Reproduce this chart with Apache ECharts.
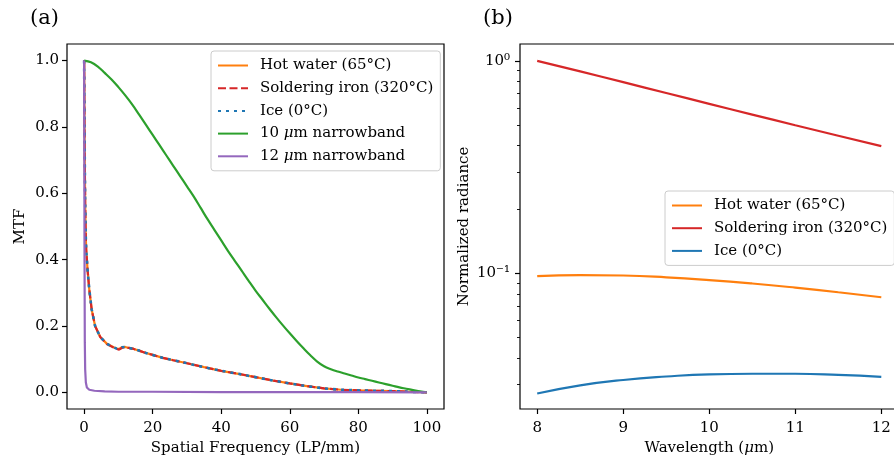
<!DOCTYPE html>
<html><head><meta charset="utf-8">
<script src="https://cdn.jsdelivr.net/npm/echarts@6/dist/echarts.min.js"></script>
<style>html,body{margin:0;padding:0;background:#fff}#c{width:894px;height:457px}</style>
</head><body><div id="c"></div><script>
// ---- Panel (a): MTF curves ----
const mtfFreq = [0,0.1,0.2,0.3,0.45,0.6,1,1.5,2.2,3.2,4.7,6.6,8.6,9.5,10.2,11,12,13,14.5,16,18,20,23,26,30,35,40,45,50,55,60,65,70,75,80,85,90,95,100];
const hotWaterMtf = [1.0,0.82,0.68,0.57,0.48,0.43,0.37,0.31,0.25,0.20,0.167,0.147,0.136,0.132,0.131,0.136,0.137,0.134,0.131,0.126,0.119,0.113,0.104,0.097,0.088,0.076,0.065,0.056,0.046,0.036,0.027,0.019,0.012,0.008,0.006,0.005,0.004,0.002,0.0];
const solderingMtf = [1.0,0.82,0.68,0.57,0.48,0.43,0.37,0.31,0.25,0.20,0.167,0.146,0.135,0.131,0.129,0.134,0.137,0.134,0.131,0.126,0.119,0.113,0.104,0.097,0.088,0.076,0.065,0.056,0.046,0.036,0.027,0.019,0.012,0.008,0.006,0.005,0.004,0.002,0.0];
const iceMtf = [1.0,0.82,0.68,0.57,0.48,0.43,0.37,0.31,0.25,0.20,0.167,0.147,0.136,0.132,0.131,0.136,0.137,0.134,0.131,0.126,0.119,0.113,0.104,0.097,0.088,0.076,0.065,0.056,0.046,0.036,0.027,0.019,0.012,0.008,0.006,0.005,0.004,0.002,0.0];
const nb10Freq = [0,2,4,6,8,10,12,14,16,18,20,22,24,26,28,30,32,34,36,38,40,42,44,46,48,50,52,54,56,58,60,62,64,66,68,70,72,74,76,78,80,82,84,86,88,90,92,94,96,98,100];
const nb10Mtf = [1.0,0.995,0.982,0.963,0.943,0.92,0.895,0.868,0.838,0.807,0.776,0.745,0.714,0.683,0.652,0.621,0.590,0.556,0.522,0.490,0.458,0.426,0.396,0.366,0.336,0.307,0.280,0.253,0.227,0.202,0.178,0.155,0.133,0.112,0.093,0.079,0.070,0.063,0.057,0.051,0.045,0.040,0.035,0.030,0.025,0.020,0.015,0.011,0.007,0.003,0.0];
const nb12Freq = [0,0.05,0.1,0.2,0.3,0.5,0.8,1.5,3,6,10,20,40,60,80,100];
const nb12Mtf = [1.0,0.75,0.45,0.15,0.07,0.03,0.015,0.008,0.005,0.003,0.002,0.002,0.001,0.001,0.001,0.0];
const mtfXTicks = [0,20,40,60,80,100];
const mtfYTicks = [0,0.2,0.4,0.6,0.8,1.0];

// ---- Panel (b): normalized radiance ----
const wavelength = [8,8.5,9,9.5,10,10.5,11,11.5,12];
const hotWaterRad = [0.0970,0.0982,0.0977,0.0958,0.0930,0.0896,0.0857,0.0815,0.0772];
const solderingRad = [1.0,0.8915,0.7934,0.7056,0.6275,0.5585,0.4977,0.4442,0.3970];
const iceRad = [0.0272,0.0297,0.0315,0.0327,0.0335,0.0337,0.0337,0.0333,0.0326];
const wlTicks = [8,9,10,11,12];
const radMajorTicks = [0.1,1];
const radMajorLabels = ['10\u207B\u00B9','10\u2070'];
const radMinorTicks = [0.03,0.04,0.05,0.06,0.07,0.08,0.09,0.2,0.3,0.4,0.5,0.6,0.7,0.8,0.9];

const FONT = 'DejaVu Serif';
const FS = 15;
const C = {orange:'#ff7f0e', red:'#d62728', blue:'#1f77b4', green:'#2ca02c', purple:'#9467bd'};
const pairs = (xs, ys) => xs.map((x,i)=>[x, ys[i]]);
const RMIN = 0.023, RMAX = 1.2;
const rich = {i:{fontFamily:FONT, fontSize:FS, fontStyle:'italic', color:'#000'}};
const muFmt = s => s.replace('\u03BC','{i|\u03BC}');
const tickStyle = {show:true, length:5, lineStyle:{color:'#000', width:1.2}};
const labelStyle = {fontFamily:FONT, fontSize:FS, color:'#000'};
const noLine = {show:false, onZero:false};

const chart = echarts.init(document.getElementById('c'), null, {renderer:'canvas'});
const lineS = (name, data, color, extra) => Object.assign({
  type:'line', name, data, symbol:'none', showSymbol:false, animation:false,
  lineStyle:{color, width:2.2}, itemStyle:{color}
}, extra||{});
const legendBase = {orient:'vertical', padding:[7,7,7,6], itemWidth:30, itemHeight:15, itemGap:7.7,
  backgroundColor:'rgba(255,255,255,0.8)', borderColor:'#cccccc', borderWidth:1, borderRadius:3,
  itemStyle:{opacity:0, borderWidth:0}, selectedMode:false};

chart.setOption({
  animation:false,
  backgroundColor:'#fff',
  textStyle:{fontFamily:FONT},
  title:[
    {text:'(a)', left:30, top:8, padding:0, textStyle:{fontFamily:FONT, fontSize:21, fontWeight:'normal', color:'#000'}},
    {text:'(b)', left:483, top:8, padding:0, textStyle:{fontFamily:FONT, fontSize:21, fontWeight:'normal', color:'#000'}}
  ],
  grid:[
    {left:67, top:44, width:377, height:365, show:true, borderColor:'#000', borderWidth:1.2, backgroundColor:'transparent', containLabel:false, outerBoundsMode:'none'},
    {left:520, top:44, width:378.5, height:365, show:true, borderColor:'#000', borderWidth:1.2, backgroundColor:'transparent', containLabel:false, outerBoundsMode:'none'}
  ],
  legend:[
    Object.assign({}, legendBase, {left:211, top:51,
     data:['Hot water (65\u00B0C)','Soldering iron (320\u00B0C)','Ice (0\u00B0C)','10 \u03BCm narrowband','12 \u03BCm narrowband'],
     formatter: muFmt,
     textStyle:{fontFamily:FONT, fontSize:FS, color:'#000', padding:[0,0,0,7], rich}}),
    Object.assign({}, legendBase, {left:665, top:191,
     data:['b|Hot water (65\u00B0C)','b|Soldering iron (320\u00B0C)','b|Ice (0\u00B0C)'],
     formatter: n => n.replace('b|',''),
     textStyle:{fontFamily:FONT, fontSize:FS, color:'#000', padding:[0,0,0,7]}})
  ],
  xAxis:[
    {type:'value', gridIndex:0, min:-5, max:105, axisLine:noLine, splitLine:{show:false},
     axisTick:Object.assign({customValues:mtfXTicks}, tickStyle),
     axisLabel:Object.assign({customValues:mtfXTicks, margin:12}, labelStyle),
     name:'Spatial Frequency (LP/mm)', nameLocation:'middle', nameGap:32,
     nameTextStyle:{fontFamily:FONT, fontSize:FS, color:'#000'}},
    {type:'value', gridIndex:1, min:7.8, max:12.2, axisLine:noLine, splitLine:{show:false},
     axisTick:Object.assign({customValues:wlTicks}, tickStyle),
     axisLabel:Object.assign({customValues:wlTicks, margin:12}, labelStyle),
     name:muFmt('Wavelength (\u03BCm)'), nameLocation:'middle', nameGap:32,
     nameTextStyle:{fontFamily:FONT, fontSize:FS, color:'#000', rich}}
  ],
  yAxis:[
    {type:'value', gridIndex:0, min:-0.05, max:1.05, axisLine:noLine, splitLine:{show:false},
     axisTick:Object.assign({customValues:mtfYTicks}, tickStyle),
     axisLabel:Object.assign({customValues:mtfYTicks, margin:8, formatter:v=>v.toFixed(1)}, labelStyle),
     name:'MTF', nameLocation:'middle', nameGap:39,
     nameTextStyle:{fontFamily:FONT, fontSize:FS, color:'#000'}},
    {type:'log', gridIndex:1, min:RMIN, max:RMAX, logBase:10, axisLine:noLine, splitLine:{show:false},
     axisTick:{show:false}, axisLabel:{show:false}},
    {type:'value', gridIndex:1, position:'left', min:Math.log10(RMIN), max:Math.log10(RMAX),
     axisLine:noLine, splitLine:{show:false},
     axisTick:Object.assign({customValues:radMajorTicks.map(Math.log10)}, tickStyle),
     axisLabel:Object.assign({customValues:radMajorTicks.map(Math.log10), margin:10,
       formatter:v=>radMajorLabels[Math.round(v)+1]}, labelStyle),
     name:'Normalized radiance', nameLocation:'middle', nameGap:48,
     nameTextStyle:{fontFamily:FONT, fontSize:FS, color:'#000'}},
    {type:'value', gridIndex:1, position:'left', min:Math.log10(RMIN), max:Math.log10(RMAX),
     axisLine:noLine, splitLine:{show:false},
     axisTick:{show:true, length:3, customValues:radMinorTicks.map(Math.log10), lineStyle:{color:'#000', width:0.9}},
     axisLabel:{show:false}}
  ],
  series:[
    lineS('Hot water (65\u00B0C)', pairs(mtfFreq, hotWaterMtf), C.orange, {xAxisIndex:0, yAxisIndex:0}),
    lineS('Soldering iron (320\u00B0C)', pairs(mtfFreq, solderingMtf), C.red, {xAxisIndex:0, yAxisIndex:0,
      lineStyle:{color:C.red, width:2.2, type:[8,3.5]}}),
    lineS('Ice (0\u00B0C)', pairs(mtfFreq, iceMtf), C.blue, {xAxisIndex:0, yAxisIndex:0,
      lineStyle:{color:C.blue, width:2.6, type:[3,5]}}),
    lineS('10 \u03BCm narrowband', pairs(nb10Freq, nb10Mtf), C.green, {xAxisIndex:0, yAxisIndex:0, smooth:0.4}),
    lineS('12 \u03BCm narrowband', pairs(nb12Freq, nb12Mtf), C.purple, {xAxisIndex:0, yAxisIndex:0}),
    lineS('b|Hot water (65\u00B0C)', pairs(wavelength, hotWaterRad), C.orange, {xAxisIndex:1, yAxisIndex:1, smooth:true}),
    lineS('b|Soldering iron (320\u00B0C)', pairs(wavelength, solderingRad), C.red, {xAxisIndex:1, yAxisIndex:1, smooth:true}),
    lineS('b|Ice (0\u00B0C)', pairs(wavelength, iceRad), C.blue, {xAxisIndex:1, yAxisIndex:1, smooth:true})
  ]
});
</script></body></html>
